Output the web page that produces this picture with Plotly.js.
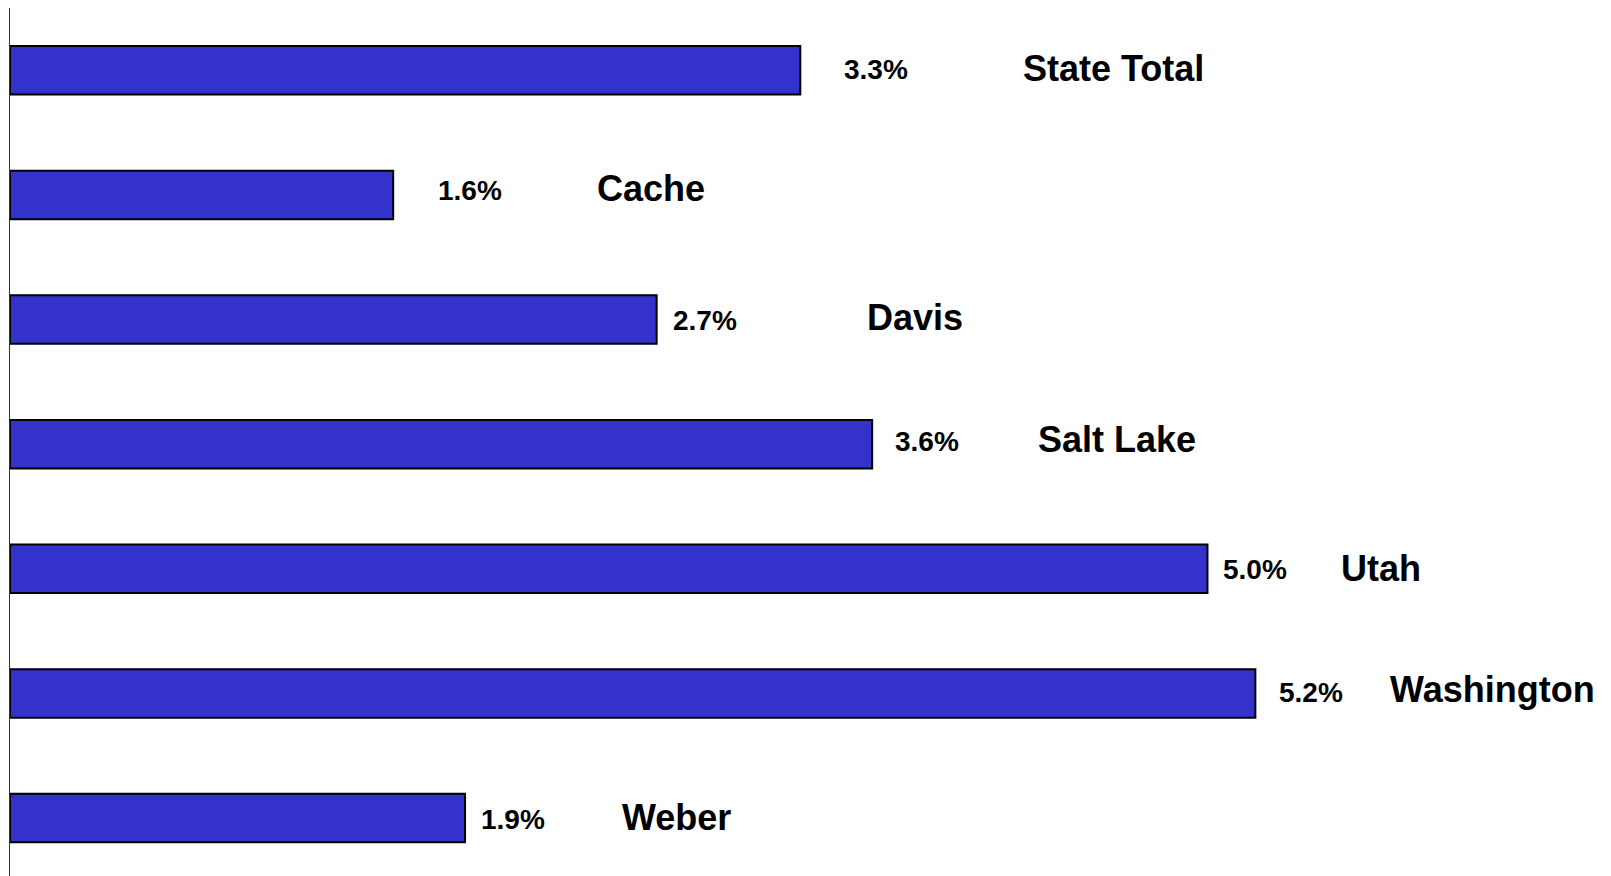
<!DOCTYPE html>
<html>
<head>
<meta charset="utf-8">
<script src="https://cdn.plot.ly/plotly-3.0.1.min.js"></script>
<style>html,body{margin:0;padding:0;background:#fff;}#chart{width:1611px;height:876px;}</style>
</head>
<body>
<div id="chart"></div>
<script>
// Data
const counties = ["State Total", "Cache", "Davis", "Salt Lake", "Utah", "Washington", "Weber"];
const growth = [3.3, 1.6, 2.7, 3.6, 5.0, 5.2, 1.9];
const valueLabels = ["3.3%", "1.6%", "2.7%", "3.6%", "5.0%", "5.2%", "1.9%"];

// Label placement (pixel offsets from bar end / bar centre)
const valueShift = [42, 43, 14, 21, 14, 22, 14];
const nameShift = [221, 202, 208, 164, 132, 133, 155];
const valueYShift = [1, 4, -1, 3, -1, 1, -1];
const nameYShift = [2, 6, 2, 5, 0, 4, 1];

const fontFam = '"Liberation Sans", Arial, sans-serif';

const annotations = [];
counties.forEach((c, i) => {
  annotations.push({
    x: growth[i], y: c, xref: 'x', yref: 'y',
    text: valueLabels[i], showarrow: false,
    xanchor: 'left', yanchor: 'middle', xshift: valueShift[i], yshift: valueYShift[i],
    font: {family: fontFam, size: 28, color: '#000', weight: 'bold'}
  });
  annotations.push({
    x: growth[i], y: c, xref: 'x', yref: 'y',
    text: c, showarrow: false,
    xanchor: 'left', yanchor: 'middle', xshift: nameShift[i], yshift: nameYShift[i],
    font: {family: fontFam, size: 36, color: '#000', weight: 'bold'}
  });
});

const trace = {
  type: 'bar', orientation: 'h',
  x: growth, y: counties,
  width: 0.39,
  marker: {color: '#3333CC', line: {color: '#000', width: 2}},
  hoverinfo: 'none'
};

const layout = {
  width: 1611, height: 876,
  margin: {l: 10, r: 0, t: 8, b: 0, pad: 0},
  paper_bgcolor: '#fff', plot_bgcolor: '#fff',
  showlegend: false,
  xaxis: {range: [0, 6.685], visible: false, showgrid: false, zeroline: false, fixedrange: true},
  yaxis: {
    type: 'category', range: [6.465, -0.5],
    showline: true, linecolor: '#333', linewidth: 1,
    showticklabels: false, ticks: '', showgrid: false, zeroline: false, fixedrange: true
  },
  annotations: annotations
};

Plotly.newPlot('chart', [trace], layout, {staticPlot: true, displayModeBar: false});
</script>
</body>
</html>
